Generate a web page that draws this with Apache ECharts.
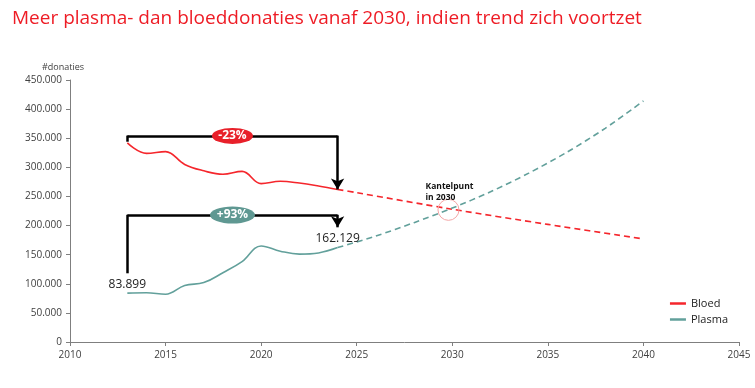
<!DOCTYPE html>
<html><head><meta charset="utf-8">
<script src="https://cdn.jsdelivr.net/npm/echarts@6/dist/echarts.min.js"></script>
<style>html,body{margin:0;padding:0;background:#fff}#c{width:755px;height:388px}</style>
</head><body><div id="c"></div><script>
const titleText = 'Meer plasma- dan bloeddonaties vanaf 2030, indien trend zich voortzet';
const yAxisName = '#donaties';
const bloedYears = [2013,2014,2015,2016,2017,2018,2019,2020,2021,2022,2023,2024];
const bloedValues = [342000,324000,327000,305000,294000,288000,293000,272000,276000,273000,268000,262000];
const bloedProjYears = [2024,2025,2030,2035,2040];
const bloedProjValues = [262000,256500,228000,202000,177000];
const plasmaYears = [2013,2014,2015,2016,2017,2018,2019,2020,2021,2022,2023,2024];
const plasmaValues = [83899,84500,82000,97000,102000,119000,138000,165000,156000,151000,153000,162129];
const plasmaProjYears = [2024,2026,2028,2030,2032,2034,2036,2038,2040];
const plasmaProjValues = [162129,182000,205000,230000,258000,290000,326000,367000,414000];
const bloedChange = '-23%';
const plasmaChange = '+93%';
const plasmaStartLabel = '83.899';
const plasmaEndLabel = '162.129';
const kantelText = 'Kantelpunt\nin 2030';

const RED = '#f5262c', TEAL = '#62a09b';
const FONT = '"Open Sans", "Noto Sans", sans-serif';
const pairs = (xs, ys) => xs.map((x, i) => [x, ys[i]]);
const fmt = v => String(v).replace(/\B(?=(\d{3})+(?!\d))/g, '.');
const ellipse = 'path://M0 10A20 10 0 1 1 40 10A20 10 0 1 1 0 10Z';

const bracketStyle = {color: '#000', width: 2.5, type: 'solid'};
const seg = (a, b, arrow) => [
  {coord: a, symbol: 'none'},
  {coord: b, symbol: arrow ? 'arrow' : 'none', symbolSize: [10, 11]}
];

const chart = echarts.init(document.getElementById('c'), null, {renderer: 'canvas'});
chart.setOption({
  animation: false,
  textStyle: {fontFamily: FONT},
  title: {text: titleText, left: 7, top: 4, textStyle: {color: '#ee1c25', fontSize: 19, fontWeight: 'normal', fontFamily: FONT}},
  grid: {left: 70, right: 16, top: 80, bottom: 46},
  legend: {
    orient: 'vertical', right: 22, top: 293, itemWidth: 16, itemHeight: 2.5, itemGap: 5,
    icon: 'rect', textStyle: {fontSize: 11, color: '#222', fontFamily: FONT},
    data: ['Bloed', 'Plasma']
  },
  xAxis: {
    type: 'value', min: 2010, max: 2045, interval: 5,
    axisLine: {lineStyle: {color: '#7f7f7f', width: 1}},
    axisTick: {show: true, length: 4, lineStyle: {color: '#7f7f7f'}},
    axisLabel: {color: '#404040', fontSize: 10, margin: 8, formatter: v => String(v)},
    splitLine: {show: false}
  },
  yAxis: {
    type: 'value', min: 0, max: 450000, interval: 50000,
    name: yAxisName, nameLocation: 'end', nameGap: 8,
    nameTextStyle: {fontSize: 9, color: '#404040', padding: [0, 14, 0, 0]},
    axisLine: {show: true, lineStyle: {color: '#7f7f7f', width: 1}},
    axisTick: {show: true, length: 4, lineStyle: {color: '#7f7f7f'}},
    axisLabel: {color: '#404040', fontSize: 10, margin: 8, formatter: v => fmt(v)},
    splitLine: {show: false}
  },
  series: [
    {
      name: 'Bloed', type: 'line', data: pairs(bloedYears, bloedValues), smooth: 0.4,
      showSymbol: false, symbol: 'none', lineStyle: {color: RED, width: 1.6}, itemStyle: {color: RED},
      z: 3,
      markLine: {
        silent: true, animation: false, label: {show: false}, lineStyle: bracketStyle, symbol: 'none',
        emphasis: {disabled: true},
        data: [
          seg([2013, 344000], [2013, 354500]),
          seg([2013, 354000], [2024, 354000]),
          seg([2024, 354500], [2024, 262000], true),
          seg([2013, 118000], [2013, 218500]),
          seg([2013, 218000], [2024, 218000]),
          seg([2024, 218500], [2024, 197000], true)
        ]
      },
      markPoint: {
        silent: true, animation: false,
        data: [
          {coord: [2018.5, 354000], symbol: ellipse, symbolSize: [41, 16], symbolKeepAspect: false,
            itemStyle: {color: '#e8202a'},
            label: {show: true, formatter: bloedChange, color: '#fff', fontWeight: 'bold', fontSize: 12}},
          {coord: [2018.5, 218000], symbol: ellipse, symbolSize: [45, 17], symbolKeepAspect: false,
            itemStyle: {color: '#5f9892'},
            label: {show: true, formatter: plasmaChange, color: '#fff', fontWeight: 'bold', fontSize: 12}}
        ]
      }
    },
    {
      name: 'Bloed', type: 'line', data: pairs(bloedProjYears, bloedProjValues), smooth: 0.3,
      showSymbol: false, symbol: 'none', lineStyle: {color: RED, width: 1.6, type: [6, 4]}, itemStyle: {color: RED},
      markPoint: {
        silent: true, animation: false,
        data: [
          {coord: [2029.8, 227000], symbol: 'circle', symbolSize: 21,
            itemStyle: {color: 'rgba(0,0,0,0)', borderColor: '#f3a5a5', borderWidth: 1},
            label: {show: false}},
          {coord: [2028.6, 277000], symbol: 'circle', symbolSize: 0,
            label: {show: true, position: 'inside', formatter: kantelText, align: 'left', verticalAlign: 'top',
              fontSize: 8.5, fontWeight: 'bold', lineHeight: 11, color: '#111'}}
        ]
      }
    },
    {
      name: 'Plasma', type: 'line', data: pairs(plasmaYears, plasmaValues), smooth: 0.4,
      showSymbol: false, symbol: 'none', lineStyle: {color: TEAL, width: 1.6}, itemStyle: {color: TEAL},
      markPoint: {
        silent: true, animation: false,
        data: [
          {coord: [2013, 83899], symbol: 'circle', symbolSize: 0,
            label: {show: true, position: 'top', distance: 3, formatter: plasmaStartLabel, fontSize: 12, color: '#222'}},
          {coord: [2024, 162129], symbol: 'circle', symbolSize: 0,
            label: {show: true, position: 'top', distance: 3, formatter: plasmaEndLabel, fontSize: 12, color: '#222'}}
        ]
      }
    },
    {
      name: 'Plasma', type: 'line', data: pairs(plasmaProjYears, plasmaProjValues), smooth: 0.3,
      showSymbol: false, symbol: 'none', lineStyle: {color: TEAL, width: 1.6, type: [6, 4]}, itemStyle: {color: TEAL}
    }
  ]
});
</script></body></html>
